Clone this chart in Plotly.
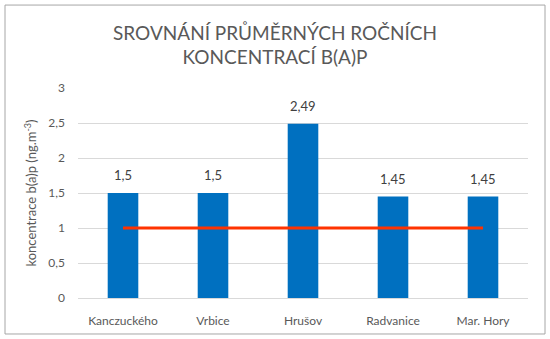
import plotly.graph_objects as go

# Annual mean B(a)P concentrations per monitoring station
stations = ["Kanczuckého", "Vrbice", "Hrušov", "Radvanice", "Mar. Hory"]
concentrations = [1.5, 1.5, 2.49, 1.45, 1.45]
limit_value = [1, 1, 1, 1, 1]
value_labels = ["1,5", "1,5", "2,49", "1,45", "1,45"]
tick_values = [0, 0.5, 1, 1.5, 2, 2.5, 3]
tick_labels = ["0", "0,5", "1", "1,5", "2", "2,5", "3"]

FONT = "Lato, 'Open Sans', sans-serif"

fig = go.Figure()
fig.add_trace(go.Bar(
    x=stations, y=concentrations,
    marker=dict(color="#0070C0", line=dict(width=0)),
    showlegend=False,
))
fig.add_trace(go.Scatter(
    x=stations, y=limit_value, mode="lines",
    line=dict(color="#FF3300", width=3),
    showlegend=False,
))

# value labels above each bar
for name, val, lab in zip(stations, concentrations, value_labels):
    fig.add_annotation(
        x=name, y=val, text=lab, showarrow=False,
        yanchor="bottom", yshift=8,
        font=dict(size=13, color="#404040", family=FONT),
    )

fig.update_layout(
    width=550, height=339,
    margin=dict(l=78, r=22, t=88, b=41),
    paper_bgcolor="white", plot_bgcolor="white",
    bargap=0.66,
    font=dict(family=FONT, color="#595959", size=12),
    title=dict(
        text="SROVNÁNÍ PRŮMĚRNÝCH ROČNÍCH<br>KONCENTRACÍ B(A)P",
        x=0.5, xanchor="center", y=0.883, yanchor="middle",
        font=dict(size=19, color="#595959", family=FONT),
    ),
    xaxis=dict(
        showgrid=False, showline=True, linecolor="#d9d9d9", linewidth=1,
        ticks="", ticklabelstandoff=12,
        tickfont=dict(size=12, color="#595959"),
    ),
    yaxis=dict(
        range=[0, 3], tickvals=tick_values, ticktext=tick_labels,
        showgrid=True, gridcolor="#d9d9d9", gridwidth=1,
        zeroline=False, showline=False, ticks="", ticklabelstandoff=12,
        tickfont=dict(size=12, color="#595959"),
        title=dict(text="koncentrace b(a)p (ng.m<sup>-3</sup>)",
                   font=dict(size=13, color="#595959"), standoff=8),
    ),
    shapes=[dict(
        type="rect", xref="paper", yref="paper",
        x0=-0.1622, x1=1.0378, y0=-0.1714, y1=1.395,
        line=dict(color="#a6a6a6", width=1), fillcolor="rgba(0,0,0,0)",
        layer="below",
    )],
)

fig.write_html("out.html")
